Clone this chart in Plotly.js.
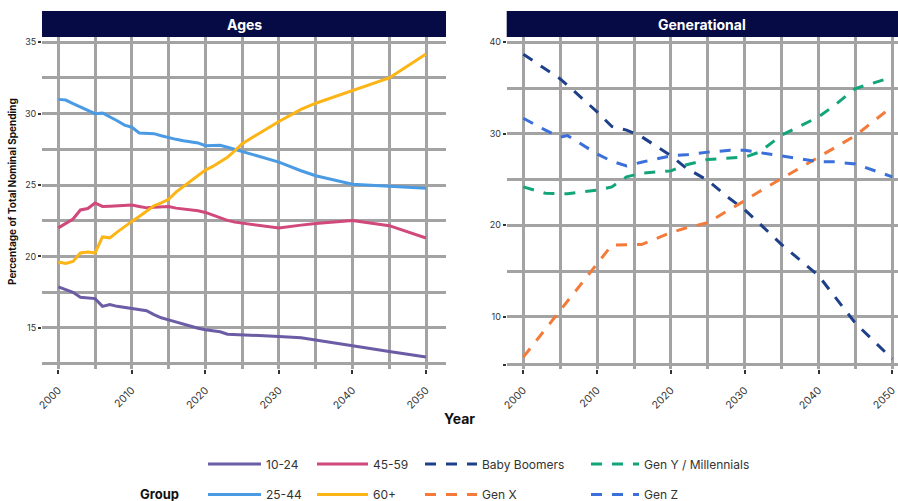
<!DOCTYPE html>
<html><head><meta charset="utf-8">
<script src="https://cdn.plot.ly/plotly-3.0.1.min.js"></script>
<style>html,body{margin:0;padding:0;background:#fff}#chart{width:898px;height:501px}</style>
</head><body><div id="chart"></div>
<script>
// ---------- data ----------
const ageYears = [2000,2001,2002,2003,2004,2005,2006,2007,2008,2009,2010,2011,2012,2013,2014,2015,2016,2017,2018,2019,2020,2021,2022,2023,2024,2025,2030,2033,2035,2040,2045,2050];
const age10_24 = [17.86,17.68,17.48,17.13,17.10,17.04,16.50,16.62,16.50,16.42,16.33,16.26,16.19,15.92,15.70,15.55,15.40,15.25,15.10,14.97,14.86,14.80,14.72,14.55,14.53,14.52,14.39,14.30,14.15,13.74,13.34,12.95];
const age25_44 = [31.0,30.95,30.7,30.45,30.2,30.0,30.05,29.8,29.5,29.2,29.05,28.65,28.6,28.6,28.45,28.3,28.2,28.1,28.05,27.95,27.75,27.75,27.78,27.65,27.5,27.35,26.6,26.0,25.65,25.05,24.93,24.77];
const age45_59 = [22.0,22.3,22.62,23.25,23.35,23.74,23.5,23.52,23.55,23.57,23.6,23.5,23.4,23.45,23.5,23.5,23.38,23.33,23.28,23.2,23.08,22.9,22.72,22.52,22.4,22.34,21.99,22.19,22.3,22.52,22.15,21.29];
const age60plus = [19.6,19.5,19.65,20.24,20.3,20.24,21.36,21.3,21.7,22.1,22.45,22.8,23.2,23.55,23.75,24.0,24.5,24.9,25.25,25.7,26.05,26.3,26.6,26.95,27.4,27.9,29.45,30.3,30.73,31.6,32.5,34.18];

const genYears = [2000,2003,2005,2006,2010,2012,2014,2016,2020,2022,2025,2028,2030,2032,2035,2040,2042,2045,2050];
const babyBoomers = [38.7,37.1,36.0,35.3,32.4,30.8,30.4,29.7,27.6,26.3,24.9,22.9,21.7,20.2,17.9,14.5,12.4,9.3,5.4];
const genX = [5.6,8.7,10.7,11.7,15.8,17.85,17.9,17.9,19.2,19.7,20.3,21.7,22.7,23.7,25.1,27.5,28.4,29.8,33.0];
const genY = [24.2,23.5,23.45,23.45,23.85,24.2,25.3,25.7,25.95,26.6,27.2,27.35,27.45,28.0,29.85,31.85,33.0,34.95,36.2];
const genZ = [31.7,30.4,29.65,29.8,27.8,27.0,26.5,26.9,27.6,27.7,28.0,28.2,28.2,27.95,27.6,26.95,26.95,26.7,25.3];

const xTicks = [2000,2010,2020,2030,2040,2050];
const xMinor = [2005,2015,2025,2035,2045];
const yTicksAge = [15,20,25,30,35];
const yMinorAge = [12.5,17.5,22.5,27.5,32.5];
const yTicksGen = [4.77,10,20,30,40];
const yTickTextGen = ['','10','20','30','40'];
const yMinorGen = [15,25,35];

// ---------- styling ----------
const W = 898, H = 501;
const px = x => x / W;
const py = y => (H - y) / H;
const FONT = 'Inter, Roboto, "Noto Sans", sans-serif';
const GRID = '#A3A3A3';
const DASH = '11px,10px';

function tr(x, y, name, color, xa, ya, leg, dash) {
  return {
    type: 'scatter', mode: 'lines', x: x, y: y, name: name,
    xaxis: xa, yaxis: ya, legend: leg, legendgroup: name,
    line: {color: color, width: 3, dash: dash || 'solid'},
    hoverinfo: 'skip'
  };
}

const data = [
  tr(ageYears, age10_24, '10-24', '#6B5CA5', 'x', 'y', 'legend'),
  tr(ageYears, age25_44, '25-44', '#4A9BE3', 'x', 'y', 'legend'),
  tr(ageYears, age45_59, '45-59', '#D1487B', 'x', 'y', 'legend2'),
  tr(ageYears, age60plus, '60+', '#FDB515', 'x', 'y', 'legend2'),
  tr(genYears, babyBoomers, 'Baby Boomers', '#1E3F8A', 'x2', 'y2', 'legend3', DASH),
  tr(genYears, genX, 'Gen X', '#F47A3A', 'x2', 'y2', 'legend3', DASH),
  tr(genYears, genY, 'Gen Y / Millennials', '#11A579', 'x2', 'y2', 'legend4', DASH),
  tr(genYears, genZ, 'Gen Z', '#3B6FD9', 'x2', 'y2', 'legend4', DASH)
];

function xax(domain, range, anchor) {
  return {
    domain: domain, range: range, anchor: anchor,
    tickmode: 'array', tickvals: xTicks, tickangle: -45,
    showgrid: true, gridcolor: GRID, gridwidth: 3,
    minor: {tickmode: 'array', tickvals: xMinor, showgrid: true, gridcolor: GRID, gridwidth: 3, ticks: ''},
    zeroline: false, showline: false, automargin: false,
    ticks: 'outside', ticklen: 4, tickwidth: 2, tickcolor: '#333',
    ticklabelstandoff: 6, ticklabeloverflow: 'allow',
    tickfont: {family: FONT, size: 10.5, color: '#333'}, fixedrange: true
  };
}
function yax(domain, range, anchor, vals, minorVals, text) {
  const a = {
    domain: domain, range: range, anchor: anchor,
    tickmode: 'array', tickvals: vals,
    showgrid: true, gridcolor: GRID, gridwidth: 3,
    minor: {tickmode: 'array', tickvals: minorVals, showgrid: true, gridcolor: GRID, gridwidth: 3, ticks: ''},
    zeroline: false, showline: false, automargin: false,
    ticks: 'outside', ticklen: 3, tickwidth: 2, tickcolor: '#333',
    tickfont: {family: FONT, size: 9, color: '#333'}, fixedrange: true
  };
  if (text) a.ticktext = text;
  return a;
}

function leg(xPix, iw) {
  return {
    x: px(xPix), y: py(449.5), xanchor: 'left', yanchor: 'top', orientation: 'v',
    bgcolor: 'rgba(0,0,0,0)', borderwidth: 0,
    font: {family: FONT, size: 12, color: '#333'},
    traceorder: 'grouped', tracegroupgap: 11.5, itemwidth: iw,
    itemclick: false, itemdoubleclick: false
  };
}

const yDom = [py(369), py(37)];
const layout = {
  width: W, height: H,
  margin: {l: 0, r: 0, t: 0, b: 0, autoexpand: false},
  paper_bgcolor: '#fff', plot_bgcolor: '#fff',
  showlegend: true,
  font: {family: FONT, color: '#333'},
  xaxis: xax([px(42), px(446)], [1997.78, 2052.72], 'y'),
  yaxis: yax(yDom, [12.11, 35.37], 'x', yTicksAge, yMinorAge),
  xaxis2: xax([px(506.7), 1], [1997.75, 2050.77], 'y2'),
  yaxis2: yax(yDom, [4.30, 40.58], 'x2', yTicksGen, yMinorGen, yTickTextGen),
  legend: leg(203, 53),
  legend2: leg(312, 51),
  legend3: leg(420, 52),
  legend4: leg(586, 48),
  shapes: [
    {type: 'rect', xref: 'x domain', yref: 'paper', x0: 0, x1: 1, y0: py(37), y1: py(11),
     fillcolor: '#070B45', line: {width: 0}, layer: 'above'},
    {type: 'rect', xref: 'x2 domain', yref: 'paper', x0: 0, x1: 1, y0: py(37), y1: py(11),
     fillcolor: '#070B45', line: {width: 0}, layer: 'above'}
  ],
  annotations: [
    {text: '<b>Ages</b>', xref: 'x domain', yref: 'paper', x: 0.5, y: py(24), showarrow: false,
     font: {family: FONT, size: 14, color: '#fff'}, xanchor: 'center', yanchor: 'middle'},
    {text: '<b>Generational</b>', xref: 'x2 domain', yref: 'paper', x: 0.5, y: py(24), showarrow: false,
     font: {family: FONT, size: 14, color: '#fff'}, xanchor: 'center', yanchor: 'middle'},
    {text: '<b>Percentage of Total Nominal Spending</b>', xref: 'paper', yref: 'paper', x: px(12.5), y: py(191.5),
     textangle: -90, showarrow: false, font: {family: FONT, size: 10, color: '#111'}, xanchor: 'center', yanchor: 'middle'},
    {text: '<b>Year</b>', xref: 'paper', yref: 'paper', x: px(459), y: py(418), showarrow: false,
     font: {family: FONT, size: 14, color: '#111'}, xanchor: 'center', yanchor: 'middle'},
    {text: '<b>Group</b>', xref: 'paper', yref: 'paper', x: px(159), y: py(494), showarrow: false,
     font: {family: FONT, size: 13, color: '#111'}, xanchor: 'center', yanchor: 'middle'}
  ]
};

Plotly.newPlot('chart', data, layout, {displayModeBar: false, staticPlot: true});
</script></body></html>
